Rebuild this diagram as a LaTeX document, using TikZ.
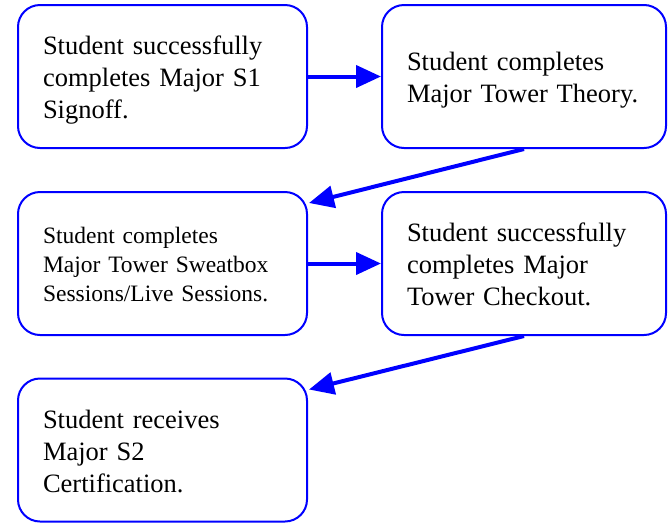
\documentclass[tikz,border=0pt]{standalone}
\usepackage{fontspec}
\setmainfont{Liberation Serif}
\usetikzlibrary{arrows.meta,calc}
\newcommand\strA{\rule[-6pt]{0pt}{32pt}}
\newcommand\strB{\rule[-5pt]{0pt}{28pt}}
\begin{document}
\begin{tikzpicture}[x=1pt,y=-1pt,
  box/.style={draw=blue, line width=2pt, rounded corners=22pt, inner xsep=25pt,
    inner ysep=0pt, minimum height=143pt, align=left,
    font=\fontsize{26.5}{32}\selectfont},
  wide/.style={text width=239pt},
  narrow/.style={text width=234pt},
  small/.style={font=\fontsize{23.5}{28}\selectfont},
  conn/.style={draw=blue, line width=4pt, -{Triangle[length=25pt,width=22pt]}}]
\useasboundingbox (0,0) rectangle (668,523);
\node[box,wide] (b1) at (162.5,76.5) {\strA Student successfully\\\strA completes Major S1\\\strA Signoff.};
\node[box,narrow] (b2) at (524,76.5) {\strA Student completes\\\strA Major Tower Theory.};
\node[box,wide,small] (b3) at (162.5,263.5) {\strB Student completes\\\strB Major Tower Sweatbox\\\strB Sessions/Live Sessions.};
\node[box,narrow] (b4) at (524,263.5) {\strA Student successfully\\\strA completes Major\\\strA Tower Checkout.};
\node[box,wide] (b5) at (162.5,450) {\strA Student receives\\\strA Major S2\\\strA Certification.};
\coordinate (t3) at ($(b3.north east)+(1,12)$);
\coordinate (t5) at ($(b5.north east)+(1,12)$);
\draw[conn] (b1.east) -- (b2.west);
\draw[conn] (b2.south) -- (t3);
\draw[conn] (b3.east) -- (b4.west);
\draw[conn] (b4.south) -- (t5);
\end{tikzpicture}
\end{document}
